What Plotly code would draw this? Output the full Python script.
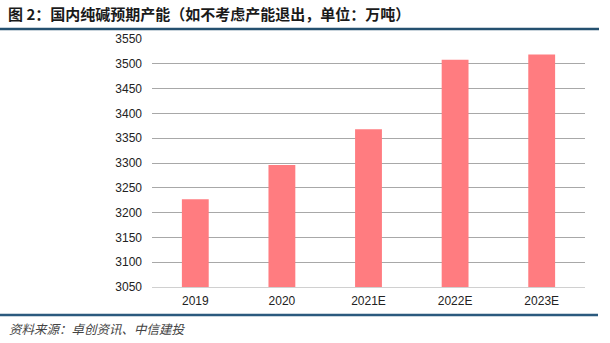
import plotly.graph_objects as go

categories = ["2019", "2020", "2021E", "2022E", "2023E"]
capacity = [3227, 3296, 3368, 3508, 3519]
y_ticks = [3050, 3100, 3150, 3200, 3250, 3300, 3350, 3400, 3450, 3500, 3550]

title_text = "<b>图 2：国内纯碱预期产能（如不考虑产能退出，单位：万吨）</b>"
source_text = "<i>资料来源：卓创资讯、中信建投</i>"

W, H = 610, 343
L, R, T, B = 152, 25, 39, 56

fig = go.Figure()
fig.add_trace(go.Bar(
    x=categories, y=capacity,
    marker=dict(color="#FF7C80", line=dict(width=0)),
    width=0.31,
))

fig.update_layout(
    width=W, height=H,
    margin=dict(l=L, r=R, t=T, b=B),
    paper_bgcolor="white", plot_bgcolor="white",
    showlegend=False,
    font=dict(family="Liberation Sans, Arial, Noto Sans CJK SC", size=12, color="#222222"),
    xaxis=dict(
        showgrid=False, showline=True, linecolor="#d0d0d0", linewidth=1,
        ticks="", tickfont=dict(size=12, color="#222222"),
        ticklabelstandoff=3,
    ),
    yaxis=dict(
        range=[3050, 3550], tickvals=y_ticks,
        showgrid=True, gridcolor="#a8a8a8", gridwidth=1,
        zeroline=False, showline=False, ticks="",
        tickfont=dict(size=12, color="#222222"),
        ticklabelstandoff=9,
    ),
    bargap=0.69,
)

def px_x(px):
    return (px - L) / (W - L - R)

def px_y(py):
    return ((H - B) - py) / (H - T - B)

# Title
fig.add_annotation(
    text=title_text, xref="paper", yref="paper",
    x=px_x(6), y=px_y(14),
    xanchor="left", yanchor="middle", showarrow=False,
    font=dict(family="Noto Sans CJK SC", size=15, color="#1a1a1a"),
)
# Source
fig.add_annotation(
    text=source_text, xref="paper", yref="paper",
    x=px_x(7), y=px_y(328),
    xanchor="left", yanchor="middle", showarrow=False,
    font=dict(family="Noto Sans CJK SC", size=12.5, color="#444444"),
)

# Rule under title
fig.add_shape(type="line", xref="paper", yref="paper",
              x0=px_x(0), x1=px_x(599), y0=px_y(29), y1=px_y(29),
              line=dict(color="#24506f", width=2.5))
# Rule above source
fig.add_shape(type="line", xref="paper", yref="paper",
              x0=px_x(0), x1=px_x(598), y0=px_y(315), y1=px_y(315),
              line=dict(color="#2b5a7e", width=2.5))

fig.write_html("out.html")
